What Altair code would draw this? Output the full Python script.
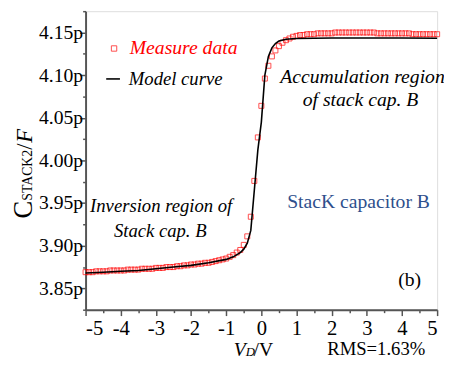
import altair as alt
import pandas as pd

# ---------------- data (capacitance in pF) ----------------
MEAS_V = [-5.0, -4.9, -4.8, -4.7, -4.6, -4.5, -4.4, -4.3, -4.2, -4.1, -4.0,
          -3.9, -3.8, -3.7, -3.6, -3.5, -3.4, -3.3, -3.2, -3.1, -3.0,
          -2.9, -2.8, -2.7, -2.6, -2.5, -2.4, -2.3, -2.2, -2.1, -2.0,
          -1.9, -1.8, -1.7, -1.6, -1.5, -1.4, -1.3, -1.2, -1.1, -1.0,
          -0.9, -0.8, -0.7, -0.6, -0.5, -0.4, -0.3, -0.2, -0.1, 0.0,
          0.1, 0.2, 0.3, 0.4, 0.5, 0.6, 0.7, 0.8, 0.9, 1.0,
          1.1, 1.2, 1.3, 1.4, 1.5, 1.6, 1.7, 1.8, 1.9, 2.0,
          2.1, 2.2, 2.3, 2.4, 2.5, 2.6, 2.7, 2.8, 2.9, 3.0,
          3.1, 3.2, 3.3, 3.4, 3.5, 3.6, 3.7, 3.8, 3.9, 4.0,
          4.1, 4.2, 4.3, 4.4, 4.5, 4.6, 4.7, 4.8, 4.9, 5.0]
MEAS_C = [3.869, 3.869, 3.869, 3.870, 3.870, 3.870, 3.870, 3.871, 3.871, 3.871, 3.871,
          3.871, 3.872, 3.872, 3.872, 3.872, 3.873, 3.873, 3.873, 3.873, 3.874,
          3.874, 3.874, 3.875, 3.875, 3.875, 3.876, 3.876, 3.877, 3.877, 3.878,
          3.878, 3.879, 3.879, 3.880, 3.880, 3.881, 3.882, 3.883, 3.884, 3.885,
          3.887, 3.889, 3.892, 3.895, 3.901, 3.911, 3.934, 3.976, 4.027, 4.064,
          4.096, 4.111, 4.122, 4.129, 4.134, 4.138, 4.141, 4.143, 4.145, 4.146,
          4.147, 4.147, 4.148, 4.148, 4.148, 4.149, 4.149, 4.149, 4.149, 4.149,
          4.150, 4.150, 4.150, 4.150, 4.150, 4.150, 4.150, 4.150, 4.150, 4.150,
          4.150, 4.150, 4.149, 4.149, 4.149, 4.149, 4.149, 4.149, 4.149, 4.149,
          4.149, 4.149, 4.148, 4.148, 4.148, 4.148, 4.148, 4.148, 4.148, 4.148]

MODEL_V = [-5.0, -4.5, -4.0, -3.5, -3.0, -2.5, -2.0, -1.5, -1.0, -0.8, -0.6, -0.5,
           -0.4, -0.3, -0.2, -0.1, 0.0, 0.1, 0.2, 0.3, 0.4, 0.5, 0.7, 1.0, 1.5,
           2.0, 3.0, 4.0, 5.0]
MODEL_C = [3.868, 3.869, 3.870, 3.871, 3.873, 3.875, 3.877, 3.880, 3.884, 3.887, 3.892, 3.896,
           3.903, 3.918, 3.965, 4.012, 4.045, 4.100, 4.122, 4.132, 4.137, 4.140, 4.142, 4.143, 4.1433,
           4.1435, 4.1435, 4.1435, 4.1432]

X_TICKS = [-5, -4.5, -4, -3.5, -3, -2.5, -2, -1.5, -1, -0.5, 0,
           0.5, 1, 1.5, 2, 2.5, 3, 3.5, 4, 4.5, 5]
Y_TICKS = [3.825, 3.85, 3.875, 3.9, 3.925, 3.95, 3.975, 4.0, 4.025,
           4.05, 4.075, 4.1, 4.125, 4.15, 4.175]

FONT = "Liberation Serif"
RED = "#ff0000"
BLUE = "#2e4f8c"
AXIS_GRAY = "#555555"

meas = pd.DataFrame({"v": MEAS_V, "c": MEAS_C})
model = pd.DataFrame({"v": MODEL_V, "c": MODEL_C})
one = pd.DataFrame({"k": [0]})

xscale = alt.Scale(domain=[-5, 5], nice=False, zero=False)
yscale = alt.Scale(domain=[3.825, 4.175], nice=False, zero=False)

xaxis = alt.Axis(
    values=X_TICKS, title=None, grid=False, labelOverlap=False,
    labelExpr="datum.value % 1 == 0 ? '' + datum.value : ''",
    labelFont=FONT, labelFontSize=21, labelColor="black", labelPadding=2,
    tickSize={"condition": {"test": "datum.value % 1 != 0", "value": 3}, "value": 6},
    tickColor=AXIS_GRAY, tickWidth=1.5, domainColor=AXIS_GRAY, domainWidth=2,
)
yaxis = alt.Axis(
    values=Y_TICKS, title=None, grid=False, labelOverlap=False,
    labelExpr="round(datum.value*40) % 2 == 0 ? format(datum.value, '.2f') + 'p' : ''",
    labelFont=FONT, labelFontSize=20, labelColor="black", labelPadding=-3,
    tickSize={"condition": {"test": "round(datum.value*40) % 2 != 0", "value": 3}, "value": 6},
    tickColor=AXIS_GRAY, tickWidth=1.5, domainColor=AXIS_GRAY, domainWidth=2,
)

points = alt.Chart(meas).mark_point(shape="square", filled=False, color=RED,
                                    size=26, strokeWidth=1).encode(
    x=alt.X("v:Q", scale=xscale, axis=xaxis),
    y=alt.Y("c:Q", scale=yscale, axis=yaxis),
)
line = alt.Chart(model).mark_line(color="black", strokeWidth=1.6).encode(
    x=alt.X("v:Q", scale=xscale, axis=xaxis),
    y=alt.Y("c:Q", scale=yscale, axis=yaxis),
)


def txt(s, x, y, size=18, color="black", style="normal", align="center",
        baseline="middle", angle=0):
    kw = dict(text=s, font=FONT, fontSize=size, color=color, fontStyle=style,
              align=align, baseline=baseline)
    if angle:
        kw["angle"] = angle
    return alt.Chart(one).mark_text(**kw).encode(x=alt.value(x), y=alt.value(y))


layers = [points, line]

# legend
layers.append(alt.Chart(one).mark_point(shape="square", filled=False, color=RED,
                                        size=30, strokeWidth=1)
              .encode(x=alt.value(29), y=alt.value(38)))
layers.append(txt("Measure data", 45, 38, size=20, color=RED, style="italic", align="left"))
layers.append(alt.Chart(one).mark_rule(color="black", strokeWidth=1.6)
              .encode(x=alt.value(21), x2=alt.value(35), y=alt.value(69)))
layers.append(txt("Model curve", 44, 69, size=19, style="italic", align="left"))

# annotations
layers.append(txt("Accumulation region", 282, 67, size=20, style="italic"))
layers.append(txt("of stack cap. B", 280, 91, size=20, style="italic"))
layers.append(txt("Inversion region of", 77, 198, size=19, style="italic"))
layers.append(txt("Stack cap. B", 76, 224, size=19, style="italic"))
layers.append(txt("StacK capacitor B", 278, 194, size=20, color=BLUE))
layers.append(txt("(b)", 330, 274, size=20))

# x title + RMS
layers.append(txt("V", 151, 351, size=20, style="italic", align="left", baseline="alphabetic"))
layers.append(txt("D", 163, 351, size=13, style="italic", align="left", baseline="alphabetic"))
layers.append(txt("/V", 171, 351, size=20, align="left", baseline="alphabetic"))
layers.append(txt("RMS=1.63%", 296, 344, size=19))

# y title (rotated pieces)
layers.append(txt("C", -55, 211, size=27, align="left", baseline="alphabetic", angle=270))
layers.append(txt("STACK2", -55, 193, size=14, align="left", baseline="alphabetic", angle=270))
layers.append(txt("/", -55, 141, size=23, align="left", baseline="alphabetic", angle=270))
layers.append(txt("F", -55, 134, size=23, style="italic", align="left", baseline="alphabetic", angle=270))

chart = alt.layer(*layers).properties(
    width=358, height=304,
    autosize=alt.AutoSizeParams(type="none"),
    padding={"left": 79, "top": 0, "right": 7, "bottom": 49},
).configure_view(stroke=None).configure(background="white")

chart.save("out.html", embed_options={"renderer": "svg", "actions": False})
